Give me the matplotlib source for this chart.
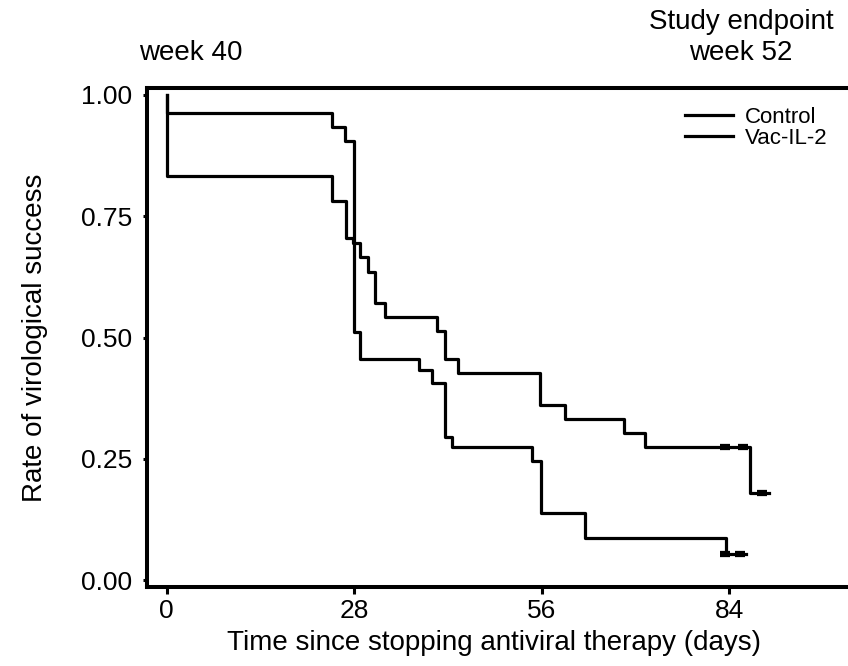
import numpy as np
import matplotlib
matplotlib.use("Agg")
import matplotlib.pyplot as plt

plt.rcParams['font.family'] = ['Liberation Sans', 'DejaVu Sans']

# Kaplan-Meier steps: time of each drop (days) and survival level after it
ctrl_days = [0, 0, 24.6, 26.6, 28.0, 28.9, 37.7, 39.6, 41.5, 42.6, 54.5, 55.9, 62.5, 83.5, 86.4]
ctrl_surv = [1.0, 0.962, 0.935, 0.905, 0.512, 0.455, 0.433, 0.406, 0.295, 0.275, 0.246, 0.138, 0.087, 0.054, 0.054]
ctrl_cens_days = [83.4, 85.6]
ctrl_cens_surv = [0.054, 0.054]

vac_days = [0, 0, 24.6, 26.7, 27.8, 28.9, 30.0, 31.1, 32.6, 40.4, 41.5, 43.5, 55.7, 59.4, 68.3, 71.4, 87.1, 89.9]
vac_surv = [1.0, 0.832, 0.781, 0.705, 0.695, 0.665, 0.636, 0.571, 0.543, 0.513, 0.455, 0.427, 0.361, 0.332, 0.304, 0.274, 0.179, 0.179]
vac_cens_days = [83.4, 86.0, 88.9]
vac_cens_surv = [0.274, 0.274, 0.179]

xticks = [0, 28, 56, 84]
yticks = [0.0, 0.25, 0.50, 0.75, 1.00]
ytick_labels = ['0.00', '0.25', '0.50', '0.75', '1.00']

W, H = 848, 666
fig = plt.figure(figsize=(W / 100, H / 100), dpi=100)
# axes box: left spine at x=146, top at y=88, bottom at y=587, runs off the right edge
ax = fig.add_axes([146.5 / W, (H - 587) / H, (W - 146.5) / W, (587 - 88.3) / H])

lw = 2.3
ax.step(ctrl_days, ctrl_surv, where='post', color='black', lw=lw, label='Control')
ax.step(vac_days, vac_surv, where='post', color='black', lw=lw, label='Vac-IL-2')
ax.plot(ctrl_cens_days, ctrl_cens_surv, ls='none', marker='_', ms=7, mew=4.5, color='black')
ax.plot(vac_cens_days, vac_cens_surv, ls='none', marker='_', ms=7, mew=4.5, color='black')

ax.set_xlim(-3.02, 101.7)
ax.set_ylim(-0.0144, 1.0138)

for side in ['left', 'top', 'bottom']:
    ax.spines[side].set_linewidth(2.9)
ax.spines['right'].set_visible(False)

ax.set_xticks(xticks)
ax.set_xticklabels([str(t) for t in xticks])
ax.set_yticks(yticks)
ax.set_yticklabels(ytick_labels)
ax.tick_params(axis='x', length=5, width=2.2, pad=4, labelsize=19)
ax.tick_params(axis='y', length=3, width=2.2, pad=7, labelsize=19)

ax.set_xlabel('Time since stopping antiviral therapy (days)', fontsize=20)
ax.set_ylabel('Rate of virological success', fontsize=20)
ax.xaxis.set_label_coords(0.495, -0.086)
ax.yaxis.set_label_coords(-0.140, 0.5)

ax.legend(loc='upper left', bbox_to_anchor=(685 / W, 1 - 107 / H),
          bbox_transform=fig.transFigure, frameon=False, fontsize=16,
          borderpad=0, borderaxespad=0, handlelength=2.15,
          handletextpad=0.55, labelspacing=0.0)

fig.text(191 / W, 1 - 53 / H, 'week 40', ha='center', va='center', fontsize=20)
fig.text(741 / W, 1 - 22 / H, 'Study endpoint', ha='center', va='center', fontsize=20)
fig.text(741 / W, 1 - 53 / H, 'week 52', ha='center', va='center', fontsize=20)

fig.savefig('out.png', dpi=100)
